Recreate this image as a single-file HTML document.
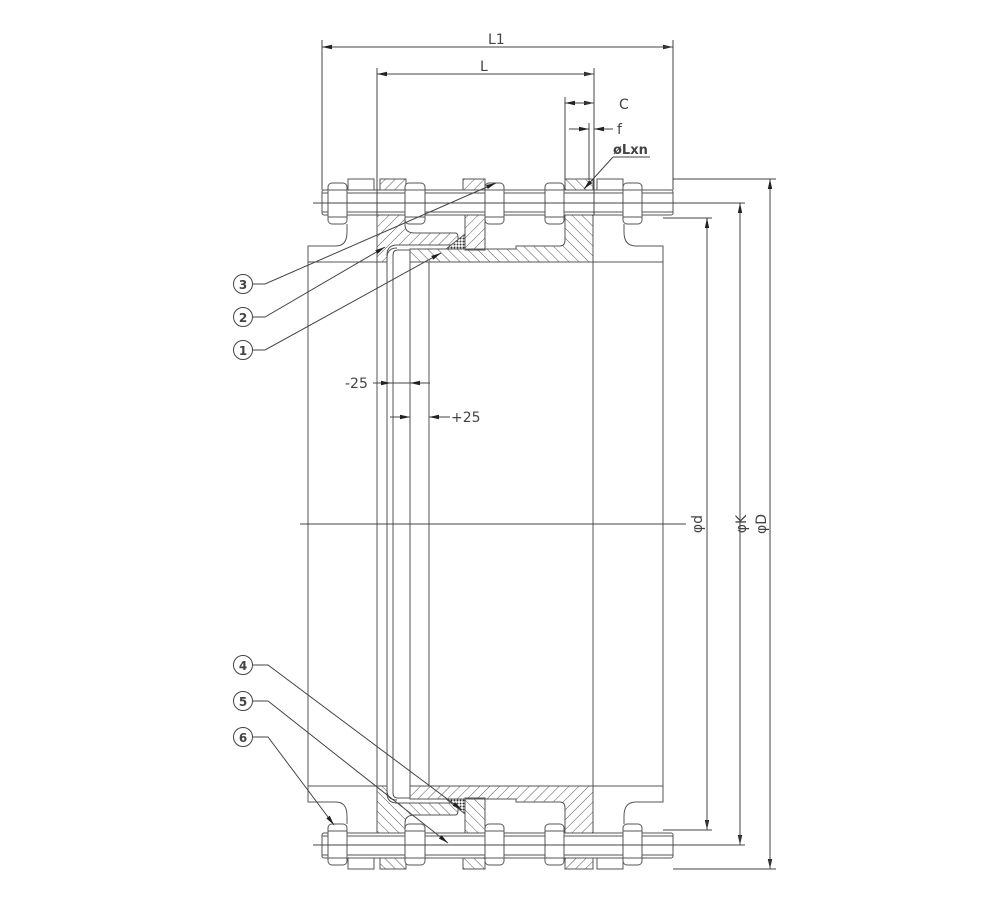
<!DOCTYPE html>
<html><head><meta charset="utf-8"><style>
html,body{margin:0;padding:0;background:#fff}
svg{display:block}
text{font-family:"DejaVu Sans","Liberation Sans",sans-serif;fill:#444}
</style></head><body>
<svg width="1008" height="914" viewBox="0 0 1008 914" xmlns="http://www.w3.org/2000/svg">
<defs>
<pattern id="h1" width="7" height="7" patternUnits="userSpaceOnUse" patternTransform="rotate(45)"><line x1="0" y1="0" x2="0" y2="7" stroke="#444" stroke-width="0.9"/></pattern>
<pattern id="h2" width="7" height="7" patternUnits="userSpaceOnUse" patternTransform="rotate(-45)"><line x1="0" y1="0" x2="0" y2="7" stroke="#444" stroke-width="0.9"/></pattern>
<pattern id="x" width="3" height="3" patternUnits="userSpaceOnUse"><rect width="3" height="3" fill="#fff"/><circle cx="1.5" cy="1.5" r="1" fill="#333"/></pattern>
<marker id="a" markerWidth="10" markerHeight="6" refX="10" refY="3" orient="auto" markerUnits="userSpaceOnUse"><path d="M0,0.8 L10,3 L0,5.2z" fill="#222"/></marker>
<g id="half" stroke="#555" stroke-width="1" fill="none">
  <path d="M308,524 V246 H336 Q347,246 347,232 V224"/>
  <path d="M663,524 V246 H636 Q624,246 624,232 V224"/>
  <line x1="308" y1="262" x2="377" y2="262"/>
  <line x1="593" y1="262" x2="663" y2="262"/>
  <rect x="348" y="179" width="26" height="11" fill="#fff"/>
  <rect x="380" y="179" width="26" height="11" fill="url(#h1)"/>
  <rect x="463" y="179" width="22" height="11" fill="url(#h1)"/>
  <rect x="565" y="179" width="28" height="11" fill="url(#h2)"/>
  <rect x="597" y="179" width="26" height="11" fill="#fff"/>
  <rect x="322" y="190" width="351" height="25" rx="2" fill="#fff"/>
  <line x1="322" y1="193" x2="673" y2="193"/><line x1="322" y1="212" x2="673" y2="212"/>
  <g fill="#fff">
  <rect x="328" y="183" width="19" height="41" rx="4"/>
  <rect x="405" y="183" width="20" height="41" rx="4"/>
  <rect x="485" y="183" width="19" height="41" rx="4"/>
  <rect x="545" y="183" width="19" height="41" rx="4"/>
  <rect x="623" y="183" width="19" height="41" rx="4"/>
  </g>
  <line x1="328" y1="190" x2="347" y2="190"/><line x1="328" y1="217" x2="347" y2="217"/>
  <line x1="405" y1="190" x2="425" y2="190"/><line x1="405" y1="217" x2="425" y2="217"/>
  <line x1="485" y1="190" x2="504" y2="190"/><line x1="485" y1="217" x2="504" y2="217"/>
  <line x1="545" y1="190" x2="564" y2="190"/><line x1="545" y1="217" x2="564" y2="217"/>
  <line x1="623" y1="190" x2="642" y2="190"/><line x1="623" y1="217" x2="642" y2="217"/>
  <path d="M377,215 H405 V225 Q405,233 415,233 H455 Q458,233 458,237 V245 H397 Q387,245 387,255 V262 H377 Z" fill="url(#h1)"/>
  <path d="M465,215 H485 V250 H465 V233 Z" fill="url(#h1)"/>
  <path d="M446,249 L465,234 V249 Z" fill="url(#x)"/>
  <path d="M410,262 V249 H516 V246 H560 Q565,246 565,240 V215 H593 V262 Z" fill="url(#h2)"/>
  <path d="M387,524 V258 Q387,248 397,248"/>
  <line x1="393" y1="524" x2="393" y2="255"/>
  <path d="M393,255 Q393,250 398,250 H410"/>
  <line x1="377" y1="262" x2="377" y2="524"/>
  <line x1="410" y1="262" x2="410" y2="524"/>
  <line x1="429" y1="262" x2="429" y2="524"/>
  <line x1="593" y1="262" x2="593" y2="524"/>
</g>
</defs>

<use href="#half"/>
<use href="#half" transform="matrix(1,0,0,-1,0,1048)"/>

<g stroke="#444" stroke-width="1" fill="none">
  <line x1="300" y1="524" x2="686" y2="524"/>
  <line x1="313" y1="203" x2="745" y2="203"/>
  <line x1="313" y1="845" x2="745" y2="845"/>
  <line x1="322" y1="40" x2="322" y2="190"/>
  <line x1="673" y1="40" x2="673" y2="190"/>
  <line x1="377" y1="68" x2="377" y2="215"/>
  <line x1="594" y1="68" x2="594" y2="215"/>
  <line x1="565" y1="97" x2="565" y2="180"/>
  <line x1="589" y1="123" x2="589" y2="180"/>
  <line x1="322" y1="47" x2="673" y2="47" marker-end="url(#a)"/>
  <line x1="673" y1="47" x2="322" y2="47" marker-end="url(#a)"/>
  <line x1="377" y1="74" x2="594" y2="74" marker-end="url(#a)"/>
  <line x1="594" y1="74" x2="377" y2="74" marker-end="url(#a)"/>
  <line x1="565" y1="103" x2="594" y2="103" marker-end="url(#a)"/>
  <line x1="594" y1="103" x2="565" y2="103" marker-end="url(#a)"/>
  <line x1="569" y1="129" x2="589" y2="129" marker-end="url(#a)"/>
  <line x1="613" y1="129" x2="594" y2="129" marker-end="url(#a)"/>
  <line x1="613" y1="157" x2="650" y2="157"/>
  <line x1="613" y1="157" x2="584" y2="189" marker-end="url(#a)"/>
  <line x1="673" y1="179" x2="776" y2="179"/>
  <line x1="673" y1="869" x2="776" y2="869"/>
  <line x1="663" y1="218" x2="712" y2="218"/>
  <line x1="663" y1="830" x2="712" y2="830"/>
  <line x1="770" y1="179" x2="770" y2="869" marker-end="url(#a)"/>
  <line x1="770" y1="869" x2="770" y2="179" marker-end="url(#a)"/>
  <line x1="740" y1="203" x2="740" y2="845" marker-end="url(#a)"/>
  <line x1="740" y1="845" x2="740" y2="203" marker-end="url(#a)"/>
  <line x1="707" y1="218" x2="707" y2="830" marker-end="url(#a)"/>
  <line x1="707" y1="830" x2="707" y2="218" marker-end="url(#a)"/>
  <line x1="373" y1="383" x2="391" y2="383" marker-end="url(#a)"/>
  <line x1="430" y1="383" x2="410" y2="383" marker-end="url(#a)"/>
  <line x1="391" y1="383" x2="410" y2="383"/>
  <line x1="390" y1="417" x2="410" y2="417" marker-end="url(#a)"/>
  <line x1="450" y1="417" x2="429" y2="417" marker-end="url(#a)"/>
  <circle cx="243" cy="284" r="9.5"/><circle cx="243" cy="317" r="9.5"/><circle cx="243" cy="350" r="9.5"/>
  <circle cx="243" cy="665" r="9.5"/><circle cx="243" cy="701" r="9.5"/><circle cx="243" cy="737" r="9.5"/>
  <polyline points="253,284 265,284 496,183" marker-end="url(#a)"/>
  <polyline points="253,317 265,317 385,247" marker-end="url(#a)"/>
  <polyline points="253,350 265,350 441,253" marker-end="url(#a)"/>
  <polyline points="253,665 268,665 462,810" marker-end="url(#a)"/>
  <polyline points="253,701 268,701 448,843" marker-end="url(#a)"/>
  <polyline points="253,737 268,737 334,825" marker-end="url(#a)"/>
</g>

<g font-size="14">
<text x="488" y="44">L1</text>
<text x="480" y="71">L</text>
<text x="619" y="109">C</text>
<text x="617" y="134">f</text>
<text x="613" y="154" font-weight="bold" font-size="13">øLxn</text>
<text x="345" y="388">-25</text>
<text x="451" y="422">+25</text>
<text transform="translate(702,524) rotate(-90)" text-anchor="middle">φd</text>
<text transform="translate(746,524) rotate(-90)" text-anchor="middle">φK</text>
<text transform="translate(766,524) rotate(-90)" text-anchor="middle">φD</text>
</g>
<g font-size="12" text-anchor="middle" font-weight="bold">
<text x="243" y="289">3</text><text x="243" y="322">2</text><text x="243" y="355">1</text>
<text x="243" y="670">4</text><text x="243" y="706">5</text><text x="243" y="742">6</text>
</g>
</svg>
</body></html>
